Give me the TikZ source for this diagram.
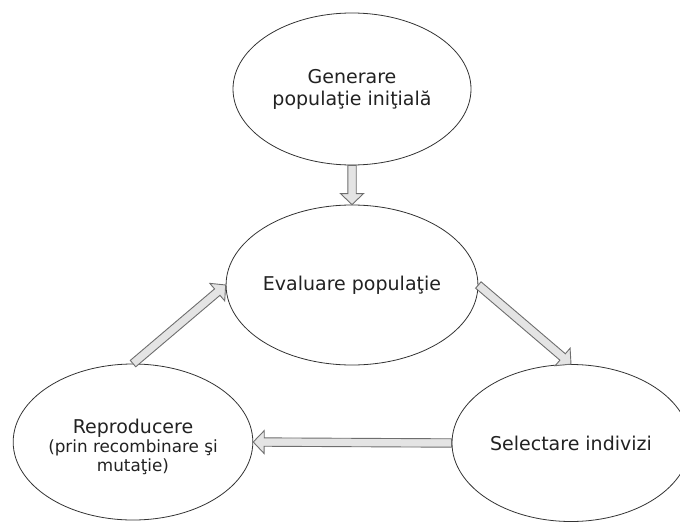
\documentclass[tikz,border=0pt]{standalone}
\usepackage{fontspec}
\setmainfont{DejaVu Sans}
\usetikzlibrary{shapes.geometric,calc}
\definecolor{txtcol}{HTML}{222222}
\definecolor{linecol}{HTML}{333333}
\definecolor{arrfill}{HTML}{E4E4E4}
\definecolor{arrline}{HTML}{6E6E6E}
\tikzset{
  ell/.style={ellipse, draw=linecol, line width=0.8pt, fill=white, inner sep=0pt,
    minimum width=238pt, text=txtcol, align=center,
    font=\fontsize{19}{22}\selectfont},
  blockarr/.style={draw=arrline, fill=arrfill, line width=0.9pt, line join=miter}
}
\newcommand\blockarrow[2]{%
  \draw[blockarr]
    ($(#1)!4.2pt!90:(#2)$) --
    ($($(#2)!11pt!(#1)$)!4.2pt!-90:(#1)$) --
    ($($(#2)!11pt!(#1)$)!11.5pt!-90:(#1)$) --
    (#2) --
    ($($(#2)!11pt!(#1)$)!11.5pt!90:(#1)$) --
    ($($(#2)!11pt!(#1)$)!4.2pt!90:(#1)$) --
    ($(#1)!4.2pt!-90:(#2)$) -- cycle;}
\begin{document}
\begin{tikzpicture}[x=1pt,y=-1pt]
\useasboundingbox (0,0) rectangle (680,522);
\clip (0,0) rectangle (680,522);
\node[ell, minimum height=152pt] (gen) at (352,89) {Generare\\populaţie iniţială};
\node[ell, minimum height=160pt] (eval) at (352,285) {Evaluare populaţie};
\node[ell, minimum height=156pt] (repr) at (133,442)
  {\rule{0pt}{25pt}Reproducere\\[-3pt]{\fontsize{16.8}{19}\selectfont (prin recombinare şi}\\[-3pt]{\fontsize{16.8}{19}\selectfont mutaţie)}};
\node[ell, minimum height=157pt] (sel) at (571,443) {Selectare indivizi};
\blockarrow{gen.south}{eval.north}
\blockarrow{eval.east}{sel.north}
\blockarrow{sel.west}{repr.east}
\blockarrow{repr.north}{eval.west}
\end{tikzpicture}
\end{document}
